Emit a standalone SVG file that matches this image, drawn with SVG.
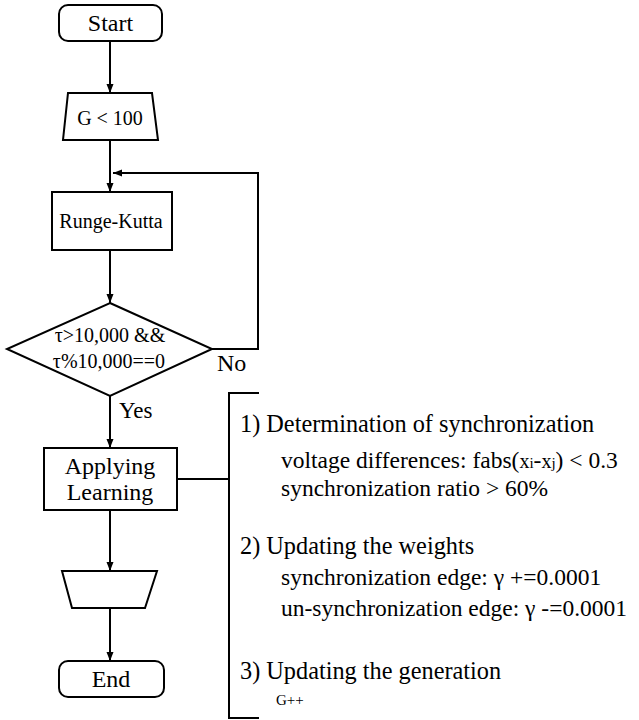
<svg xmlns="http://www.w3.org/2000/svg" width="639" height="720" viewBox="0 0 639 720">
<defs>
<marker id="ah" markerWidth="10" markerHeight="10" refX="9" refY="5" orient="auto" markerUnits="userSpaceOnUse">
<path d="M0,1.5 L9,5 L0,8.5 Z" fill="#000"/>
</marker>
<style>
.s{fill:#fff;stroke:#000;stroke-width:2}
.t{fill:#000}
.c{stroke:#000;stroke-width:2;fill:none}
</style>
</defs>
<rect width="639" height="720" fill="#fff"/>
<g id="connectors">
<line class="c" x1="110" y1="41" x2="110" y2="93" marker-end="url(#ah)"/>
<line class="c" x1="110" y1="140" x2="110" y2="192" marker-end="url(#ah)"/>
<polyline class="c" points="212,349 258,349 258,173 113,173" marker-end="url(#ah)"/>
<line class="c" x1="110" y1="250" x2="110" y2="303" marker-end="url(#ah)"/>
<line class="c" x1="110" y1="396" x2="110" y2="448" marker-end="url(#ah)"/>
<line class="c" x1="110" y1="510" x2="110" y2="571" marker-end="url(#ah)"/>
<line class="c" x1="110" y1="608" x2="110" y2="661" marker-end="url(#ah)"/>
<line class="c" x1="177" y1="479" x2="229" y2="479"/>
<polyline class="c" points="259,393 229,393 229,718 259,718"/>
<text class="t" font-family="'Liberation Serif', 'DejaVu Serif', serif" x="217" y="371" font-size="24">No</text>
<text class="t" font-family="'Liberation Serif', 'DejaVu Serif', serif" x="119" y="418" font-size="23">Yes</text>
</g>
<g id="start" font-family="'Liberation Serif', 'DejaVu Serif', serif">
<rect class="s" x="59" y="5" width="103" height="36" rx="9"/>
<text class="t" x="110.5" y="31" font-size="24" text-anchor="middle">Start</text>
</g>
<g id="loop-g" font-family="'Liberation Serif', 'DejaVu Serif', serif">
<polygon class="s" points="68,93 152,93 158,140 63,140"/>
<text class="t" x="110" y="125" font-size="20" text-anchor="middle">G &lt; 100</text>
</g>
<g id="runge-kutta" font-family="'Liberation Serif', 'DejaVu Serif', serif">
<rect class="s" x="52" y="192" width="120" height="58"/>
<text class="t" x="111" y="228" font-size="20" text-anchor="middle">Runge-Kutta</text>
</g>
<g id="decision" font-family="'Liberation Serif', 'DejaVu Serif', serif">
<polygon class="s" points="110,303 212,349 110,396 7,349"/>
<text class="t" x="110" y="342" font-size="20" text-anchor="middle">τ&gt;10,000 &amp;&amp;</text>
<text class="t" x="109" y="368" font-size="20" text-anchor="middle">τ%10,000==0</text>
</g>
<g id="applying" font-family="'Liberation Serif', 'DejaVu Serif', serif">
<rect class="s" x="44" y="448" width="133" height="62"/>
<text class="t" x="110" y="474" font-size="24" text-anchor="middle">Applying</text>
<text class="t" x="110" y="500" font-size="24" text-anchor="middle">Learning</text>
</g>
<g id="end-loop">
<polygon class="s" points="62,571 157,571 145,608 72,608"/>
</g>
<g id="end" font-family="'Liberation Serif', 'DejaVu Serif', serif">
<rect class="s" x="59" y="661" width="105" height="36" rx="9"/>
<text class="t" x="111" y="687" font-size="24" text-anchor="middle">End</text>
</g>
<g id="notes" font-family="'Liberation Serif', 'DejaVu Serif', serif">
<text class="t" x="240" y="432" font-size="24.3">1) Determination of synchronization</text>
<text class="t" x="281" y="468" font-size="23.5">voltage differences: fabs(<tspan font-size="20">x</tspan><tspan font-size="15">i</tspan>-<tspan font-size="20">x</tspan><tspan font-size="15">j</tspan>) &lt; 0.3</text>
<text class="t" x="281" y="496" font-size="23.5">synchronization ratio &gt; 60%</text>
<text class="t" x="240" y="554" font-size="24.3">2) Updating the weights</text>
<text class="t" x="281" y="585" font-size="23.5">synchronization edge: γ +=0.0001</text>
<text class="t" x="281" y="616" font-size="23.5">un-synchronization edge: γ -=0.0001</text>
<text class="t" x="240" y="679" font-size="24.3">3) Updating the generation</text>
<text class="t" x="276" y="705" font-size="15">G++</text>
</g>
</svg>
